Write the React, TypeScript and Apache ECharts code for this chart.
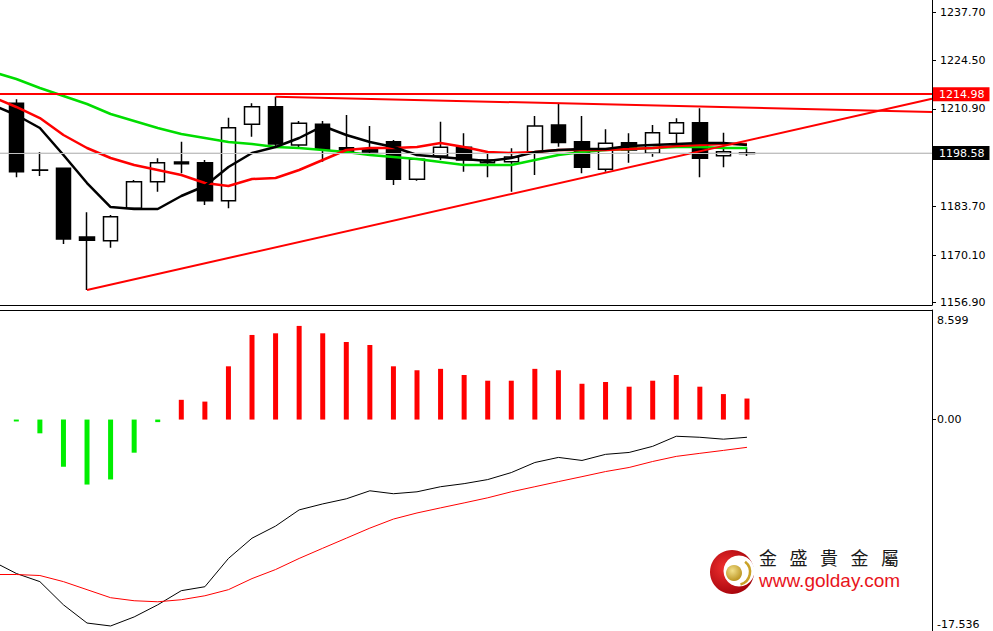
import React, { useEffect, useRef } from "react";
import * as echarts from "echarts";

// ---- data ----
const opens = [1212.46, 1193.9, 1194.35, 1175.2, 1174.17, 1183.2, 1190.61, 1196.1, 1195.91, 1185.32, 1206.61, 1211.51, 1200.84, 1206.61, 1200.09, 1199.6, 1201.76, 1191.28, 1197.77, 1200.2, 1195.91, 1196.2, 1198.97, 1206.41, 1201.76, 1194.07, 1201.48, 1198.53, 1204.1, 1207.05, 1197.86, 1198.5];
const closes = [1193.4, 1193.8, 1174.65, 1174.3, 1180.86, 1190.61, 1195.91, 1195.6, 1185.32, 1205.66, 1211.51, 1201.12, 1206.88, 1199.64, 1198.97, 1198.9, 1191.28, 1196.85, 1200.2, 1196.66, 1196.66, 1197.5, 1206.13, 1201.54, 1194.62, 1201.31, 1199.45, 1204.27, 1207.05, 1197.13, 1198.97, 1198.58];
const lows = [1191.84, 1192.2, 1173.25, 1160.44, 1172.22, 1183.0, 1187.83, 1192.95, 1184.12, 1183.2, 1203.15, 1200.36, 1200.2, 1196.19, 1198.6, 1197.9, 1189.69, 1190.89, 1196.66, 1193.4, 1191.84, 1187.83, 1192.48, 1200.36, 1192.95, 1193.4, 1195.91, 1197.58, 1201.31, 1191.84, 1194.62, 1197.77];
const highs = [1213.57, 1198.8, 1194.6, 1182.09, 1181.33, 1191.08, 1197.13, 1201.76, 1196.66, 1208.45, 1212.46, 1214.3, 1207.53, 1207.53, 1209.2, 1206.1, 1202.23, 1197.13, 1207.33, 1204.1, 1198.97, 1199.92, 1208.92, 1212.46, 1208.92, 1205.21, 1204.1, 1206.41, 1208.28, 1211.06, 1204.27, 1200.2];

// moving averages, first value belongs to the bar before the first visible candle
const maFast = [1211.98, 1209.2, 1205.57, 1198.05, 1190.25, 1183.56, 1183.01, 1183.01, 1186.63, 1189.42, 1194.71, 1198.61, 1200.28, 1202.79, 1206.13, 1203.62, 1201.67, 1200.28, 1198.05, 1197.49, 1196.94, 1196.38, 1197.22, 1198.89, 1199.45, 1199.72, 1199.72, 1200.56, 1200.84, 1201.12, 1201.4, 1201.4, 1200.84];
const maMid = [1214.21, 1211.43, 1208.36, 1203.62, 1200.0, 1197.22, 1195.26, 1193.87, 1192.48, 1190.25, 1189.42, 1191.36, 1191.64, 1193.87, 1196.66, 1199.45, 1200.0, 1200.0, 1200.28, 1201.4, 1200.28, 1198.89, 1198.61, 1198.89, 1199.45, 1199.45, 1199.45, 1199.72, 1200.0, 1200.56, 1200.84, 1201.12, 1201.12];
const maSlow = [1221.18, 1219.23, 1216.72, 1214.49, 1212.26, 1209.48, 1207.53, 1205.57, 1203.9, 1202.79, 1201.67, 1201.12, 1200.28, 1200.0, 1199.45, 1198.89, 1198.05, 1197.49, 1196.94, 1196.1, 1195.26, 1195.26, 1195.26, 1196.66, 1198.05, 1198.89, 1199.45, 1199.72, 1200.0, 1200.28, 1200.28, 1200.0, 1200.0];

const histogram = [-0.15, -1.08, -3.7, -5.1, -4.7, -2.6, -0.2, 1.55, 1.41, 4.18, 6.64, 6.77, 7.35, 6.77, 6.09, 5.85, 4.18, 3.87, 3.98, 3.5, 3.05, 3.05, 3.98, 3.87, 2.81, 2.95, 2.58, 3.05, 3.5, 2.58, 2.0, 1.65];
const macdLine = [-11.13, -12.08, -12.72, -14.54, -15.97, -16.2, -15.49, -14.54, -13.43, -13.12, -10.9, -9.31, -8.36, -7.09, -6.62, -6.22, -5.59, -5.82, -5.67, -5.27, -5.03, -4.71, -4.16, -3.37, -2.97, -3.21, -2.73, -2.58, -2.1, -1.31, -1.39, -1.54, -1.39];
const signalLine = [-12.16, -12.16, -12.24, -12.72, -13.35, -13.98, -14.22, -14.3, -14.14, -13.83, -13.35, -12.48, -11.77, -10.9, -10.1, -9.31, -8.52, -7.81, -7.33, -6.93, -6.54, -6.14, -5.67, -5.27, -4.87, -4.48, -4.08, -3.76, -3.29, -2.89, -2.65, -2.42, -2.18];

const priceTicks = [1237.7, 1224.5, 1210.9, 1183.7, 1170.1, 1156.9];
const macdTicks = [8.599, 0, -17.536];
const resistanceLevel = 1214.98;
const lastPrice = 1198.58;
const supportTrend = [[3, 1160.44], [38.85, 1213.75]];
const resistanceTrend = [[11, 1214.3], [38.85, 1210.03]];

const X_MIN = -0.692;
const X_MAX = 38.85;
const PRICE_MIN = 1156.26;
const PRICE_MAX = 1241.24;
const MACD_MIN = -17.536;
const MACD_MAX = 8.599;

const logoChars = ["金", "盛", "貴", "金", "屬"];

export default function App() {
  const ref = useRef<HTMLDivElement>(null);
  useEffect(() => {
    if (!ref.current) return;
    const chart = echarts.init(ref.current, null, { renderer: "svg" });
    const candles = opens.map((o, i) => [i, o, closes[i], lows[i], highs[i]]);
    const withPrev = (arr: number[]) => arr.map((v, i) => [i - 1, v]);
    const font = "DejaVu Sans";
    const RED = "#ff0000";

    const option: any = {
      animation: false,
      backgroundColor: "#ffffff",
      grid: [
        { left: 0, top: 0, width: 932, height: 305, outerBoundsMode: "none", containLabel: false },
        { left: 0, top: 310, width: 932, height: 333, outerBoundsMode: "none", containLabel: false },
      ],
      xAxis: [
        {
          type: "value", gridIndex: 0, min: X_MIN, max: X_MAX, position: "bottom",
          axisLine: { show: true, onZero: false, lineStyle: { color: "#000", width: 1 } },
          axisTick: { show: false }, axisLabel: { show: false }, splitLine: { show: false },
        },
        {
          type: "value", gridIndex: 1, min: X_MIN, max: X_MAX, position: "top",
          axisLine: { show: true, onZero: false, lineStyle: { color: "#000", width: 1 } },
          axisTick: { show: false }, axisLabel: { show: false }, splitLine: { show: false },
        },
      ],
      yAxis: [
        {
          type: "value", gridIndex: 0, min: PRICE_MIN, max: PRICE_MAX, position: "right",
          axisLine: { show: true, onZero: false, lineStyle: { color: "#000", width: 1 } },
          axisTick: { show: true, customValues: priceTicks, length: 4, lineStyle: { color: "#000" } },
          axisLabel: {
            customValues: priceTicks, margin: 8, color: "#000", fontFamily: font, fontSize: 11,
            formatter: (v: number) => v.toFixed(2),
          },
          splitLine: { show: false },
        },
        {
          type: "value", gridIndex: 1, min: MACD_MIN, max: MACD_MAX, position: "right",
          axisLine: { show: true, onZero: false, lineStyle: { color: "#000", width: 1 } },
          axisTick: { show: true, customValues: [0], length: 4, lineStyle: { color: "#000" } },
          axisLabel: {
            customValues: macdTicks, margin: 5, color: "#000", fontFamily: font, fontSize: 11,
            formatter: (v: number) =>
              v === MACD_MAX ? `{t|${v.toFixed(3)}}` : v === MACD_MIN ? `{b|${v.toFixed(3)}}` : v.toFixed(2),
            rich: {
              t: { padding: [20, 0, 0, 0], fontFamily: font, fontSize: 11, color: "#000" },
              b: { padding: [0, 0, 38, 0], fontFamily: font, fontSize: 11, color: "#000" },
            },
          },
          splitLine: { show: false },
        },
      ],
      series: [
        {
          name: "bid",
          type: "line",
          xAxisIndex: 0, yAxisIndex: 0, z: 1,
          data: [[X_MIN, lastPrice], [X_MAX, lastPrice]],
          symbol: "none",
          lineStyle: { color: "#c0c0c0", width: 1 },
          silent: true,
          markLine: {
            symbol: "none", silent: true, animation: false,
            data: [
              {
                yAxis: resistanceLevel,
                lineStyle: { color: RED, width: 2, type: "solid" },
                label: {
                  show: true, position: "end", distance: 1, formatter: () => resistanceLevel.toFixed(2),
                  backgroundColor: RED, color: "#fff", padding: [2, 5, 1, 6], fontFamily: font, fontSize: 11,
                },
              },
              {
                yAxis: lastPrice,
                lineStyle: { color: "#c0c0c0", width: 1, type: "solid" },
                label: {
                  show: true, position: "end", distance: 1, formatter: () => lastPrice.toFixed(2),
                  backgroundColor: "#000", color: "#fff", padding: [2, 5, 1, 6], fontFamily: font, fontSize: 11,
                },
              },
            ],
          },
        },
        {
          name: "price",
          type: "candlestick",
          xAxisIndex: 0, yAxisIndex: 0, z: 2,
          data: candles,
          encode: { x: 0, y: [1, 2, 3, 4] },
          barWidth: 15,
          itemStyle: { color: "#ffffff", color0: "#000000", borderColor: "#000000", borderColor0: "#000000", borderWidth: 1.5 },
        },
        {
          name: "MA slow", type: "line", xAxisIndex: 0, yAxisIndex: 0, z: 3,
          data: withPrev(maSlow), symbol: "none", lineStyle: { color: "#00dd00", width: 2.5 },
        },
        {
          name: "MA mid", type: "line", xAxisIndex: 0, yAxisIndex: 0, z: 3,
          data: withPrev(maMid), symbol: "none", lineStyle: { color: RED, width: 2.5 },
        },
        {
          name: "MA fast", type: "line", xAxisIndex: 0, yAxisIndex: 0, z: 3,
          data: withPrev(maFast), symbol: "none", lineStyle: { color: "#000", width: 2.5 },
        },
        {
          name: "support", type: "line", xAxisIndex: 0, yAxisIndex: 0, z: 4,
          data: supportTrend, symbol: "none", lineStyle: { color: RED, width: 2 },
        },
        {
          name: "resistance", type: "line", xAxisIndex: 0, yAxisIndex: 0, z: 4,
          data: resistanceTrend, symbol: "none", lineStyle: { color: RED, width: 2 },
        },
        {
          name: "hist", type: "bar", xAxisIndex: 1, yAxisIndex: 1,
          barWidth: 5,
          data: histogram.map((v, i) => ({ value: [i, v], itemStyle: { color: v >= 0 ? RED : "#00ee00" } })),
        },
        {
          name: "macd", type: "line", xAxisIndex: 1, yAxisIndex: 1,
          data: withPrev(macdLine), symbol: "none", lineStyle: { color: "#000", width: 1 },
        },
        {
          name: "signal", type: "line", xAxisIndex: 1, yAxisIndex: 1,
          data: withPrev(signalLine), symbol: "none", lineStyle: { color: RED, width: 1 },
        },
      ],
      graphic: [
        {
          type: "group", left: 710, top: 550, silent: true,
          children: [
            { type: "circle", shape: { cx: 22, cy: 22, r: 22 },
              style: { fill: new echarts.graphic.RadialGradient(0.35, 0.4, 0.7, [
                { offset: 0, color: "#f03030" }, { offset: 1, color: "#a00008" }]) } },
            { type: "circle", shape: { cx: 29, cy: 21, r: 15.5 }, style: { fill: "#ffffff" } },
            { type: "arc", shape: { cx: 27, cy: 22, r: 13, startAngle: -0.9, endAngle: 1.3 },
              style: { stroke: "#c9a227", lineWidth: 2.5, fill: "none" } },
            { type: "circle", shape: { cx: 24, cy: 23, r: 8 },
              style: { fill: new echarts.graphic.RadialGradient(0.4, 0.35, 0.7, [
                { offset: 0, color: "#f2e08a" }, { offset: 1, color: "#b8901c" }]) } },
          ],
        },
        ...logoChars.map((c, i) => ({
          type: "text", left: 759 + i * 30.5, top: 548, silent: true,
          style: { text: c, fill: "#1a1a1a", font: '18px "Noto Sans CJK TC"' },
        })),
        {
          type: "text", left: 759, top: 571, silent: true,
          style: { text: "www.golday.com", fill: "#e8141c", font: '19px "Liberation Sans"' },
        },
      ],
    };
    chart.setOption(option);
    return () => chart.dispose();
  }, []);
  return (
    <div
      ref={ref}
      style={{ position: "fixed", left: 0, top: 0, width: 993, height: 631, background: "#fff" }}
    />
  );
}
